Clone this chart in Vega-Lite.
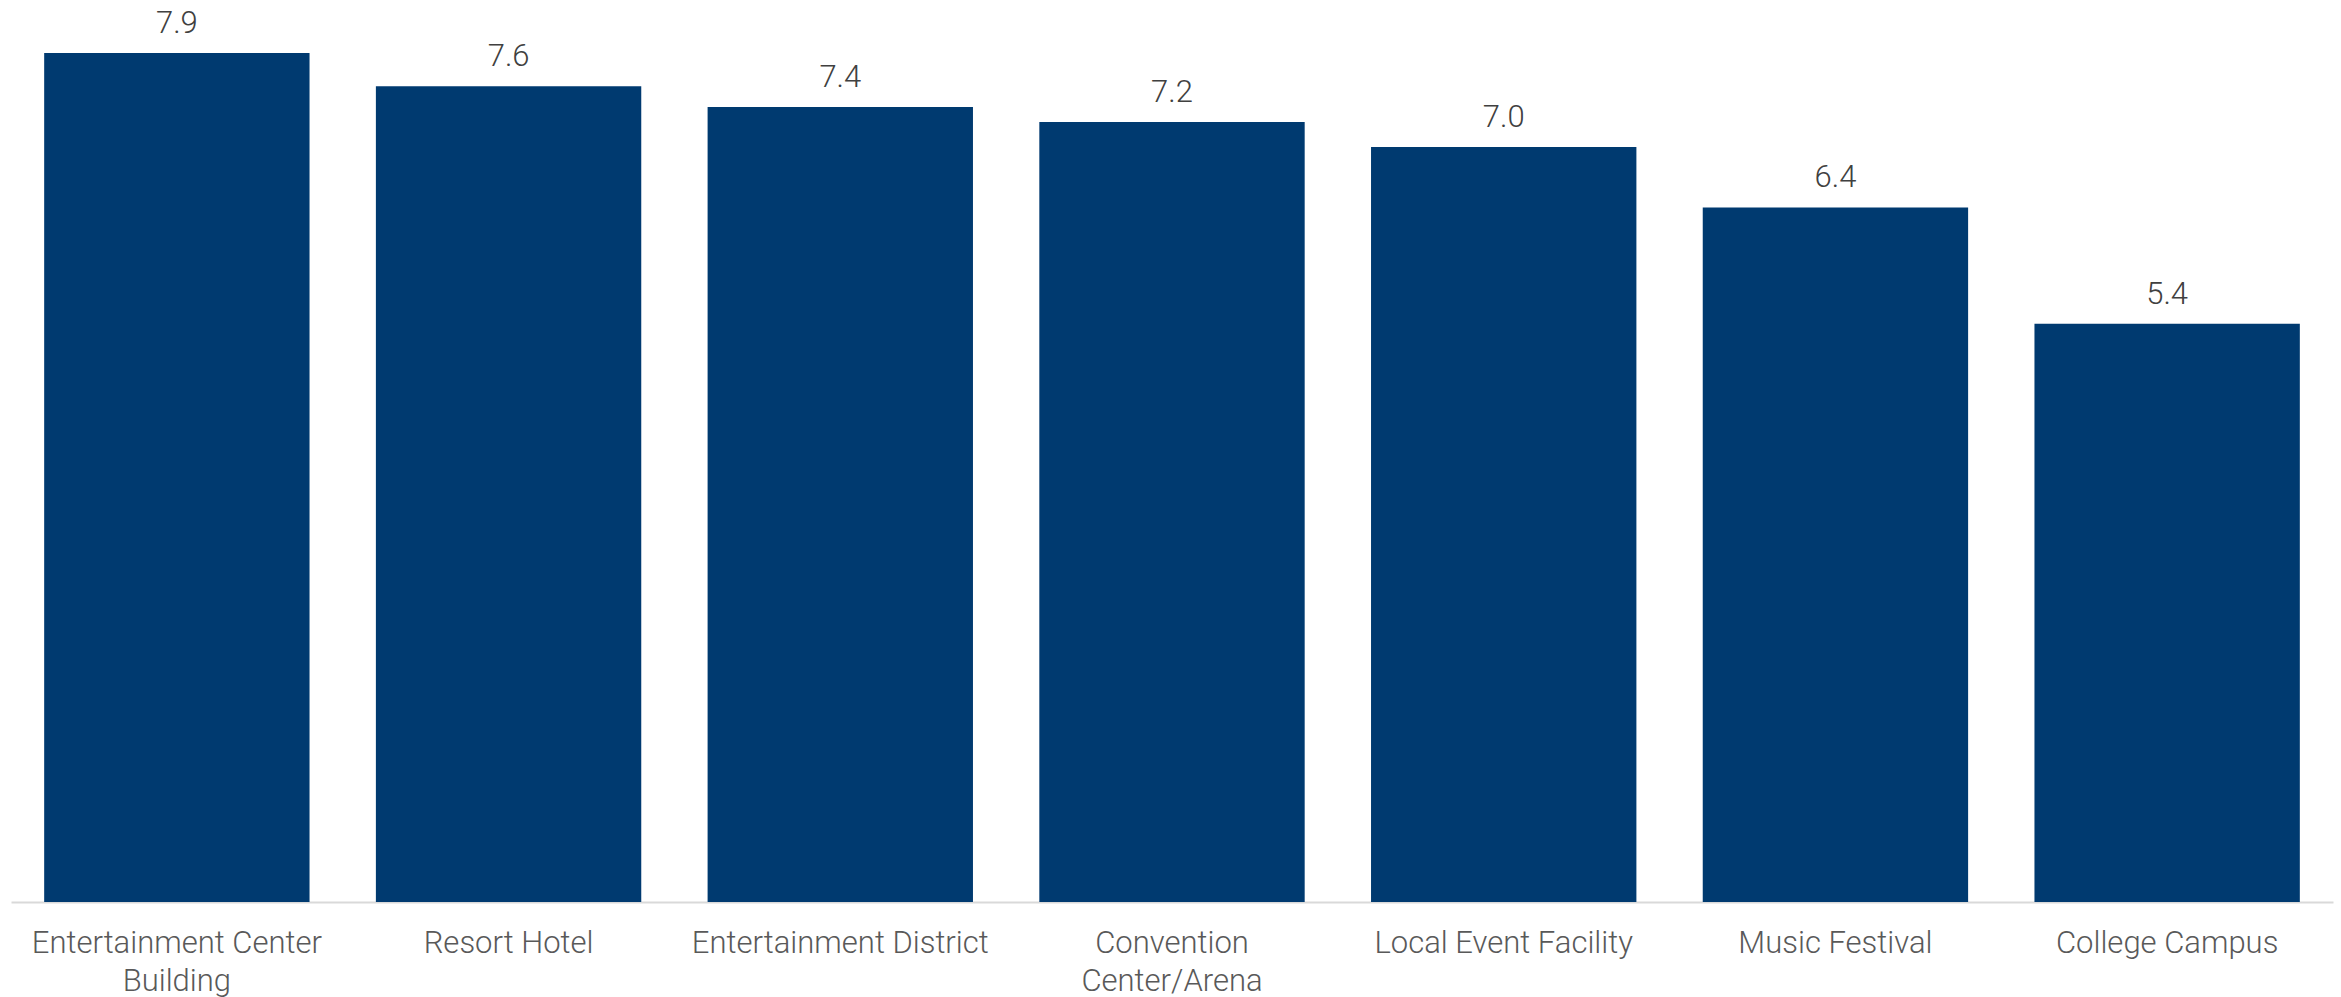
{
  "$schema": "https://vega.github.io/schema/vega-lite/v6.json",
  "width": 2322,
  "height": 902,
  "autosize": {"type": "none"},
  "padding": {"left": 11, "top": 0, "right": 8, "bottom": 95},
  "background": "#ffffff",
  "config": {"view": {"stroke": null}, "font": "Roboto"},
  "data": {
    "values": [
      {"category": "Entertainment Center Building", "value": 7.86},
      {"category": "Resort Hotel", "value": 7.551},
      {"category": "Entertainment District", "value": 7.36},
      {"category": "Convention Center/Arena", "value": 7.22},
      {"category": "Local Event Facility", "value": 6.99},
      {"category": "Music Festival", "value": 6.43},
      {"category": "College Campus", "value": 5.352}
    ]
  },
  "encoding": {
    "x": {
      "field": "category",
      "type": "nominal",
      "sort": null,
      "scale": {"paddingInner": 0.2, "paddingOuter": 0.1},
      "axis": {
        "title": null,
        "labelAngle": 0,
        "ticks": false,
        "domainColor": "#d9d9d9",
        "domainWidth": 2,
        "labelFont": "Roboto Light, Roboto",
        "labelFontWeight": 300,
        "labelFontSize": 31,
        "labelColor": "#595959",
        "labelPadding": 26,
        "labelLineHeight": 38,
        "labelLimit": 0,
        "labelExpr": "datum.label == 'Entertainment Center Building' ? ['Entertainment Center', 'Building'] : datum.label == 'Convention Center/Arena' ? ['Convention', 'Center/Arena'] : datum.label"
      }
    },
    "y": {
      "field": "value",
      "type": "quantitative",
      "scale": {"domain": [0, 8.35], "nice": false},
      "axis": null
    }
  },
  "layer": [
    {"mark": {"type": "bar", "color": "#003a70"}},
    {
      "mark": {
        "type": "text",
        "baseline": "alphabetic",
        "dy": -20,
        "font": "Roboto Light, Roboto",
        "fontWeight": 300,
        "fontSize": 31,
        "color": "#404040"
      },
      "encoding": {"text": {"field": "value", "type": "quantitative", "format": ".1f"}}
    }
  ]
}
